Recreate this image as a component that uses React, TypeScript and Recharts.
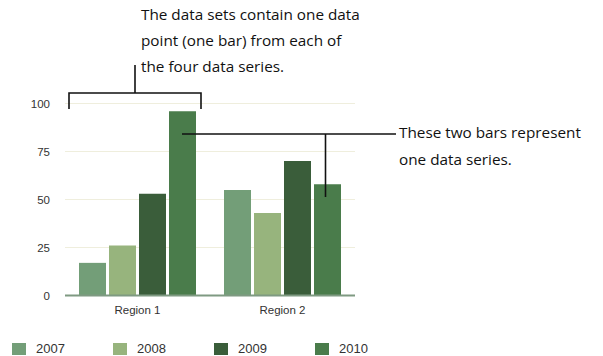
import { BarChart, Bar, XAxis, YAxis, CartesianGrid, Legend } from "recharts";

const regions = ["Region 1", "Region 2"];
const years = ["2007", "2008", "2009", "2010"];
const values2007 = [17, 55];
const values2008 = [26, 43];
const values2009 = [53, 70];
const values2010 = [96, 58];
const yTicks = [0, 25, 50, 75, 100];

const colors = ["#739e78", "#97b47d", "#3a5d3a", "#4a7c4b"];
const seriesValues = [values2007, values2008, values2009, values2010];

const data = regions.map((r, i) => {
  const row: Record<string, string | number> = { region: r };
  years.forEach((y, j) => {
    row[y] = seriesValues[j][i];
  });
  return row;
});

const tickFont = { fontFamily: "'Liberation Sans', Arial, sans-serif", fontSize: 11.5, fill: "#333" };

function LegendContent() {
  return (
    <div style={{ display: "flex", paddingLeft: 12, paddingTop: 21, fontFamily: "'Liberation Sans', Arial, sans-serif", fontSize: 13, color: "#333" }}>
      {years.map((y, i) => (
        <div key={y} style={{ width: 101, display: "flex", alignItems: "center" }}>
          <span style={{ width: 14, height: 12, background: colors[i], marginRight: 10, display: "inline-block" }} />
          {y}
        </div>
      ))}
    </div>
  );
}

function Annotations() {
  const txt = { fontFamily: "'Open Sans', sans-serif", fontSize: 15.3, fill: "#111" };
  return (
    <svg width={603} height={356} style={{ position: "absolute", left: 0, top: 0, pointerEvents: "none" }}>
      <g stroke="#111" strokeWidth={1.6} fill="none">
        <polyline points="69,109 69,93 201,93 201,109" />
        <line x1={135} y1={93} x2={135} y2={65} />
        <line x1={182} y1={134} x2={396} y2={134} />
        <line x1={325.5} y1={134} x2={325.5} y2={197} />
      </g>
      <text x={141} y={20} {...txt}>The data sets contain one data</text>
      <text x={141} y={46} {...txt}>point (one bar) from each of</text>
      <text x={141} y={72} {...txt}>the four data series.</text>
      <text x={399} y={138} {...txt}>These two bars represent</text>
      <text x={399} y={165} {...txt}>one data series.</text>
    </svg>
  );
}

export default function App() {
  return (
    <div style={{ position: "absolute", left: 0, top: 0, width: 603, height: 356, background: "#fff" }}>
      <BarChart
        width={603}
        height={356}
        data={data}
        margin={{ top: 103.5, right: 248, left: 0, bottom: 0 }}
        barCategoryGap={14}
        barGap={3}
      >
        <CartesianGrid vertical={false} stroke="#efeedd" />
        <XAxis
          dataKey="region"
          height={24.5}
          tickLine={false}
          tickMargin={4}
          axisLine={{ stroke: "#7f9a82", strokeWidth: 2 }}
          tick={tickFont}
        />
        <YAxis
          width={65}
          domain={[0, 100]}
          ticks={yTicks}
          axisLine={false}
          tickLine={false}
          tickMargin={9}
          tick={tickFont}
        />
        <Legend verticalAlign="bottom" height={36} content={<LegendContent />} wrapperStyle={{ left: 0, width: 603 }} />
        {years.map((y, i) => (
          <Bar key={y} dataKey={y} fill={colors[i]} isAnimationActive={false} />
        ))}
      </BarChart>
      <Annotations />
    </div>
  );
}
